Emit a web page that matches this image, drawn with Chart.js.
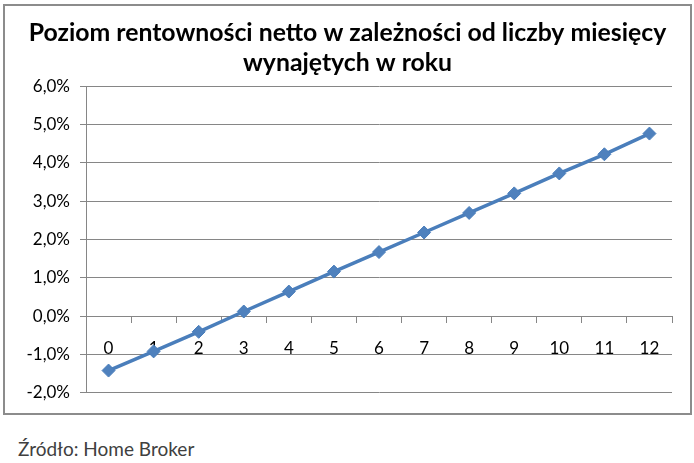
<!DOCTYPE html>
<html>
<head>
<meta charset="utf-8">
<script src="https://cdn.jsdelivr.net/npm/chart.js@4/dist/chart.umd.min.js"></script>
<style>
  html, body { margin: 0; padding: 0; background: #fff; width: 694px; height: 463px; overflow: hidden; }
  #frame { position: absolute; left: 3px; top: 4px; width: 685px; height: 407px; border: 2px solid #8c8c8c; background: #fff; }
  #frame canvas { display: block; }
  #source { position: absolute; left: 18px; top: 437px; font-family: Lato, "Open Sans", sans-serif; font-size: 19px; color: #404040; }
</style>
</head>
<body>
<div id="frame"><canvas id="c" width="685" height="407"></canvas></div>
<div id="source">Źródło: Home Broker</div>
<script>
const titleLines = ["Poziom rentowności netto w zależności od liczby miesięcy", "wynajętych w roku"];
const categories = ["0", "1", "2", "3", "4", "5", "6", "7", "8", "9", "10", "11", "12"];
const values = [-1.42, -0.92, -0.41, 0.12, 0.64, 1.16, 1.67, 2.18, 2.69, 3.20, 3.72, 4.22, 4.76];
const yMin = -2, yMax = 6, yStep = 1;

const fmt = v => v.toFixed(1).replace('.', ',') + '%';

new Chart(document.getElementById('c'), {
  type: 'line',
  data: {
    labels: categories,
    datasets: [{
      data: values,
      borderColor: '#4a7ebb',
      backgroundColor: '#4f81bd',
      borderWidth: 3.5,
      pointStyle: 'rectRot',
      pointRadius: 6.5,
      pointHoverRadius: 6.5,
      pointBorderWidth: 1,
      pointBorderColor: '#4a7ebb',
      tension: 0
    }]
  },
  options: {
    responsive: false,
    animation: false,
    devicePixelRatio: 1,
    layout: { padding: { left: 18, right: 18, bottom: 16, top: 0 } },
    plugins: {
      legend: { display: false },
      tooltip: { enabled: false },
      title: {
        display: true,
        text: titleLines,
        color: '#000',
        font: { family: 'Lato, "Open Sans", sans-serif', size: 24.8, weight: 'bold', lineHeight: 1.21 },
        padding: { top: 12, bottom: 8 }
      }
    },
    scales: {
      x: {
        type: 'category',
        position: { y: 0 },
        offset: true,
        grid: { display: true, drawOnChartArea: false, drawTicks: true, tickLength: 6, offset: true, color: '#868686' },
        border: { display: true, color: '#868686', width: 1 },
        ticks: { color: '#000', padding: 16, maxRotation: 0, font: { family: 'Lato, "Open Sans", sans-serif', size: 17 } }
      },
      y: {
        min: yMin,
        max: yMax,
        afterFit: s => { s.width = 63; },
        grid: { color: '#868686', lineWidth: 1, drawTicks: true, tickLength: 6 },
        border: { display: true, color: '#868686', width: 1 },
        ticks: { stepSize: yStep, color: '#000', padding: 10, callback: fmt, font: { family: 'Lato, "Open Sans", sans-serif', size: 17 } }
      }
    }
  }
});
</script>
</body>
</html>
